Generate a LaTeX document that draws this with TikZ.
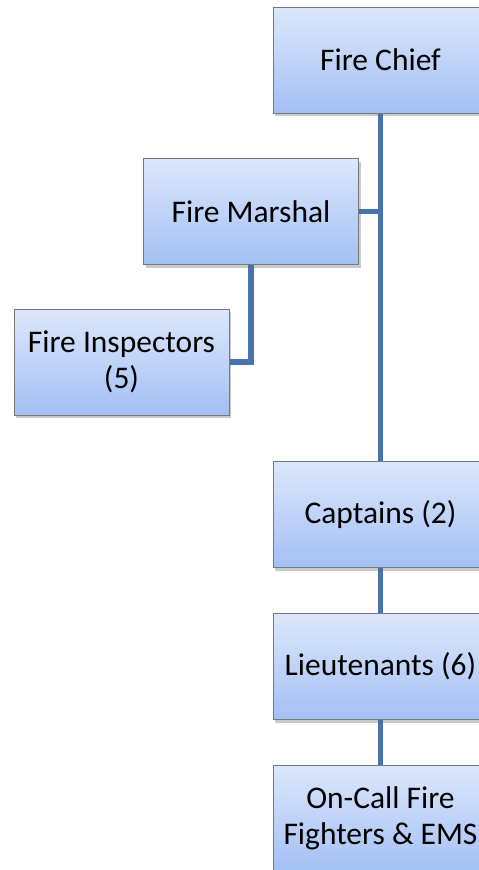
\documentclass[tikz,border=0pt]{standalone}
\usepackage{fontspec}
\setmainfont{Carlito}
\usetikzlibrary{shadows,backgrounds}
\definecolor{linkblue}{RGB}{72,115,178}
\definecolor{boxtop}{RGB}{220,231,252}
\definecolor{boxbot}{RGB}{163,192,244}
\definecolor{boxedge}{RGB}{120,120,120}
\tikzset{
  orgbox/.style={draw=boxedge, line width=0.9pt, top color=boxtop, bottom color=boxbot,
    minimum width=215pt, minimum height=106pt, inner sep=0pt, align=center,
    font=\fontsize{31.5}{36}\selectfont, text=black,
    drop shadow={shadow xshift=2pt, shadow yshift=-3pt, opacity=0.35, fill=black!60}},
  link/.style={draw=linkblue, line width=5.5pt}
}
\begin{document}
\begin{tikzpicture}[x=1pt,y=-1pt]
\useasboundingbox (0,0) rectangle (479,870);
\clip (0,0) rectangle (479,870);
\node[orgbox] (chief) at (380.5,60) {Fire Chief};
\node[orgbox] (marshal) at (251,211.5) {Fire Marshal};
\node[orgbox] (insp) at (121.5,362) {Fire Inspectors\\(5)};
\node[orgbox] (capt) at (380.5,514.5) {Captains (2)};
\node[orgbox] (lieut) at (380.5,666.5) {Lieutenants (6)};
\node[orgbox] (oncall) at (380.5,818) {On-Call Fire\\Fighters \& EMS};
\begin{scope}[on background layer]
\draw[link] (chief.south) -- (capt.north);
\draw[link] (marshal.east) -- (marshal.east -| chief.south);
\draw[link] (marshal.south) |- (insp.east);
\draw[link] (capt.south) -- (lieut.north);
\draw[link] (lieut.south) -- (oncall.north);
\end{scope}
\end{tikzpicture}
\end{document}
